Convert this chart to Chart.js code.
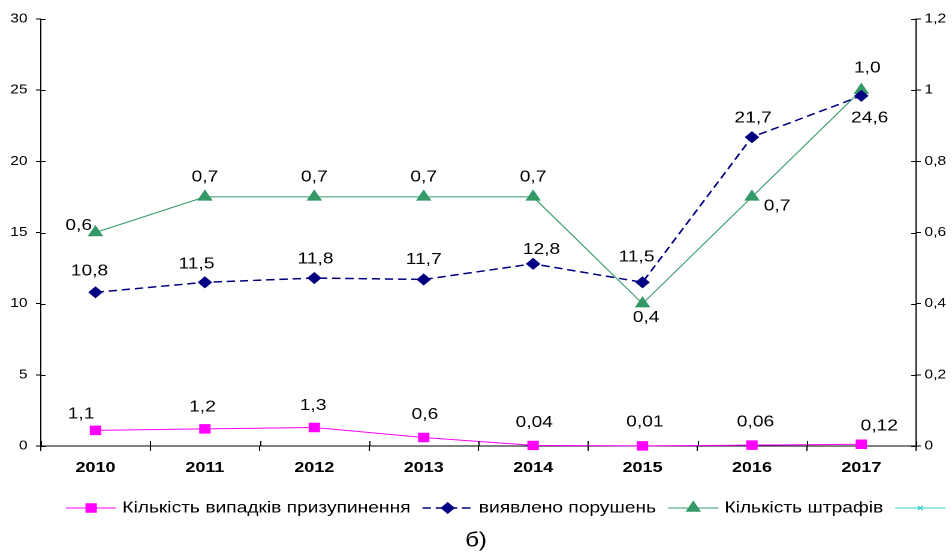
<!DOCTYPE html>
<html>
<head>
<meta charset="utf-8">
<script src="https://cdn.jsdelivr.net/npm/chart.js@4.4.1/dist/chart.umd.min.js"></script>
<style>
  html, body { margin: 0; padding: 0; background: #fff; overflow: hidden; }
  #wrap { width: 794px; height: 558px; transform: scaleX(1.199); transform-origin: 0 0; }
</style>
</head>
<body>
<div id="wrap"><canvas id="chart" width="794" height="558"></canvas></div>
<script>
const YEARS = ['2010', '2011', '2012', '2013', '2014', '2015', '2016', '2017'];
const SUSPENSIONS = [1.1, 1.2, 1.3, 0.6, 0.04, 0.01, 0.06, 0.12];
const VIOLATIONS = [10.8, 11.5, 11.8, 11.7, 12.8, 11.5, 21.7, 24.6];
const FINES = [0.6, 0.7, 0.7, 0.7, 0.7, 0.4, 0.7, 1.0];
const EXTRA = [];

const LEFT_TICKS = [0, 5, 10, 15, 20, 25, 30];
const RIGHT_TICKS = [0, 0.2, 0.4, 0.6, 0.8, 1, 1.2];

// label offsets from the point, in px (dx, dy)
const SUSP_OFFSETS = [[-12, -16], [-2, -22], [-1, -22], [1, -23], [1, -23], [2, -24], [3, -23], [15, -18]];
const VIOL_OFFSETS = [[-5, -21], [-7, -18], [1, -19], [0, -20], [7, -14], [-5, -25], [1, -19], [7, 22]];
const FINES_OFFSETS = [[-14, -7], [0, -20], [0, -20], [0, -20], [0, -20], [3, 14], [21, 9], [5, -22]];

const FONT = '"Liberation Sans", Arial, sans-serif';

function comma(v) {
  return String(v).replace('.', ',');
}

const valueLabels = {
  id: 'valueLabels',
  afterDatasetsDraw(chart) {
    const ctx = chart.ctx;
    ctx.save();
    ctx.font = '16px ' + FONT;
    ctx.fillStyle = '#000';
    ctx.textAlign = 'center';
    ctx.textBaseline = 'middle';
    chart.data.datasets.forEach((ds, i) => {
      if (!ds.labelOffsets) return;
      chart.getDatasetMeta(i).data.forEach((pt, j) => {
        const off = ds.labelOffsets[j];
        ctx.fillText(ds.formatLabel(ds.data[j]), pt.x + off[0], pt.y + off[1]);
      });
    });
    ctx.restore();
  }
};

const innerTicks = {
  id: 'innerTicks',
  afterDraw(chart) {
    const ctx = chart.ctx;
    const area = chart.chartArea;
    const x = chart.scales.x;
    const y = chart.scales.y;
    const y1 = chart.scales.y1;
    ctx.save();
    ctx.strokeStyle = '#000';
    ctx.lineWidth = 1;
    ctx.beginPath();
    y.ticks.forEach((t, i) => {
      const py = Math.round(y.getPixelForTick(i)) + 0.5;
      ctx.moveTo(area.left, py);
      ctx.lineTo(area.left + 4, py);
    });
    y1.ticks.forEach((t, i) => {
      const py = Math.round(y1.getPixelForTick(i)) + 0.5;
      ctx.moveTo(area.right, py);
      ctx.lineTo(area.right - 4, py);
    });
    const step = x.getPixelForValue(1) - x.getPixelForValue(0);
    for (let i = 0; i <= YEARS.length; i++) {
      const px = Math.round(x.getPixelForValue(0) - step / 2 + i * step) + 0.5;
      ctx.moveTo(px, area.bottom);
      ctx.lineTo(px, area.bottom - 5);
    }
    ctx.stroke();

    // legend
    let lx = 55;
    const ly = 508;
    ctx.font = '16px ' + FONT;
    ctx.textBaseline = 'middle';
    ctx.textAlign = 'left';
    chart.data.datasets.forEach((ds) => {
      ctx.strokeStyle = ds.borderColor;
      ctx.lineWidth = ds.borderWidth;
      ctx.setLineDash(ds.borderDash || []);
      ctx.beginPath();
      ctx.moveTo(lx, ly);
      ctx.lineTo(lx + 42, ly);
      ctx.stroke();
      ctx.setLineDash([]);
      ctx.fillStyle = ds.pointBackgroundColor;
      ctx.strokeStyle = ds.pointBorderColor;
      Chart.helpers.drawPoint(ctx, {
        pointStyle: ds.pointStyle,
        radius: ds.legendRadius,
        rotation: 0,
        borderWidth: 1
      }, lx + 21, ly);
      ctx.fillStyle = '#000';
      const w = ctx.measureText(ds.label).width;
      ctx.fillText(ds.label, lx + 47, ly);
      lx += 47 + w + 10;
    });

    ctx.font = '20px ' + FONT;
    ctx.textAlign = 'center';
    ctx.fillText('б)', 397, 541);
    ctx.restore();
  }
};

new Chart(document.getElementById('chart'), {
  type: 'line',
  data: {
    labels: YEARS,
    datasets: [
      {
        label: 'Кількість випадків призупинення',
        data: SUSPENSIONS,
        yAxisID: 'y',
        clip: false,
        borderColor: '#FF00FF',
        borderWidth: 1,
        pointStyle: 'rect',
        pointRadius: 6,
        legendRadius: 6,
        pointBackgroundColor: '#FF00FF',
        pointBorderColor: '#FF00FF',
        labelOffsets: SUSP_OFFSETS,
        formatLabel: comma
      },
      {
        label: 'виявлено порушень',
        data: VIOLATIONS,
        yAxisID: 'y',
        clip: false,
        borderColor: '#000080',
        borderWidth: 1.5,
        borderDash: [7, 4],
        pointStyle: 'rectRot',
        pointRadius: 5,
        legendRadius: 5,
        pointBackgroundColor: '#000080',
        pointBorderColor: '#000080',
        labelOffsets: VIOL_OFFSETS,
        formatLabel: comma
      },
      {
        label: 'Кількість штрафів',
        data: FINES,
        yAxisID: 'y1',
        clip: false,
        borderColor: '#339966',
        borderWidth: 1,
        pointStyle: 'triangle',
        pointRadius: 6.5,
        legendRadius: 6.5,
        pointBackgroundColor: '#339966',
        pointBorderColor: '#339966',
        labelOffsets: FINES_OFFSETS,
        formatLabel: (v) => v.toFixed(1).replace('.', ',')
      },
      {
        label: '',
        data: EXTRA,
        yAxisID: 'y',
        borderColor: '#33CCCC',
        borderWidth: 1,
        pointStyle: 'crossRot',
        pointRadius: 3,
        legendRadius: 3,
        pointBackgroundColor: '#33CCCC',
        pointBorderColor: '#33CCCC'
      }
    ]
  },
  options: {
    responsive: false,
    animation: false,
    devicePixelRatio: 2,
    layout: { padding: { top: 19, left: 0, right: 0, bottom: 72 } },
    elements: { line: { tension: 0 } },
    plugins: {
      legend: { display: false },
      tooltip: { enabled: false }
    },
    scales: {
      x: {
        offset: true,
        grid: { offset: true, drawOnChartArea: false, color: '#000', tickLength: 5 },
        border: { color: '#000', width: 1 },
        ticks: { color: '#000', font: { family: FONT, size: 15, weight: 'bold' }, padding: 8, maxRotation: 0 },
        afterFit(scale) { scale.height = 40; }
      },
      y: {
        position: 'left',
        min: 0,
        max: 30,
        afterBuildTicks(scale) { scale.ticks = LEFT_TICKS.map((v) => ({ value: v })); },
        grid: { drawOnChartArea: false, color: '#000', tickLength: 4 },
        border: { color: '#000', width: 1 },
        ticks: { color: '#000', font: { family: FONT, size: 13 }, padding: 7, callback: (v) => String(v) },
        afterFit(scale) { scale.width = 34; }
      },
      y1: {
        position: 'right',
        min: 0,
        max: 1.2,
        afterBuildTicks(scale) { scale.ticks = RIGHT_TICKS.map((v) => ({ value: v })); },
        grid: { drawOnChartArea: false, color: '#000', tickLength: 4 },
        border: { color: '#000', width: 1 },
        ticks: { color: '#000', font: { family: FONT, size: 13 }, padding: 3, callback: (v) => comma(Math.round(v * 10) / 10) },
        afterFit(scale) { scale.width = 30; }
      }
    }
  },
  plugins: [valueLabels, innerTicks]
});
</script>
</body>
</html>
